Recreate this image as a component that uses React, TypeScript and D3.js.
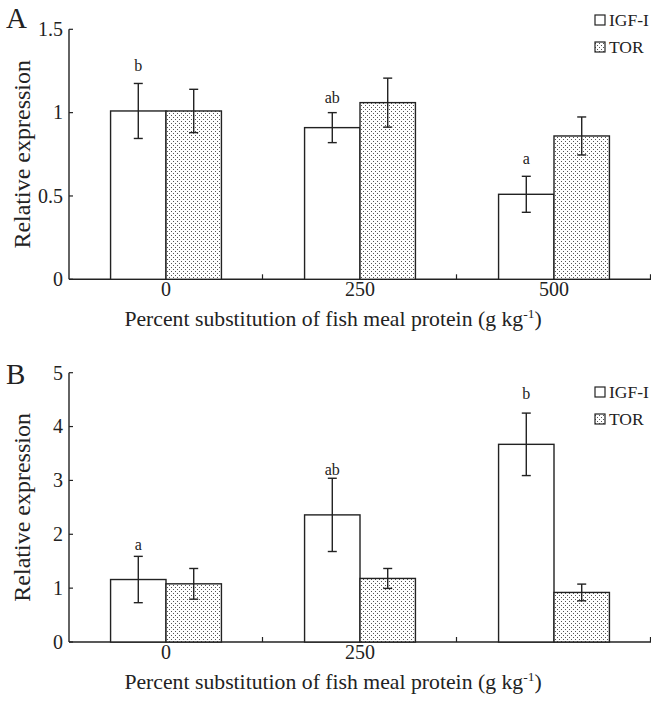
import { useEffect, useRef } from "react";
import * as d3 from "d3";

// groups on the x axis
const categories = ["0", "250", "500"];
const series = ["IGF-I", "TOR"];

// panel A
const tickLabelsA = ["0", "250", "500"];
const yTicksA = [0, 0.5, 1, 1.5];
const igfA = [1.01, 0.91, 0.51];
const igfErrA = [0.165, 0.09, 0.108];
const torA = [1.01, 1.06, 0.86];
const torErrA = [0.13, 0.147, 0.114];
const lettersA = ["b", "ab", "a"];
const letterAtA = [1.25, 1.06, 0.69];

// panel B
const tickLabelsB = ["0", "250", ""];
const yTicksB = [0, 1, 2, 3, 4, 5];
const igfB = [1.16, 2.36, 3.67];
const igfErrB = [0.43, 0.68, 0.58];
const torB = [1.08, 1.18, 0.92];
const torErrB = [0.285, 0.185, 0.155];
const lettersB = ["a", "ab", "b"];
const letterAtB = [1.71, 3.1, 4.51];

const width = 651;
const height = 701;
const font = "'Liberation Serif', 'Times New Roman', serif";
const ink = "#222";

type PanelOpts = {
  tag: string;
  top: number; // y of max tick
  bottom: number; // y of zero
  yMax: number;
  yTicks: number[];
  tickLabels: string[];
  igf: number[];
  igfErr: number[];
  tor: number[];
  torErr: number[];
  letters: string[];
  letterAt: number[];
  legendTop: number;
  tagBaseline: number;
};

const App = () => {
  const svgRef = useRef<SVGSVGElement | null>(null);

  useEffect(() => {
    if (!svgRef.current) return;
    const svg = d3.select(svgRef.current);
    svg.selectAll("*").remove();

    // dotted fill for TOR
    const defs = svg.append("defs");
    const pat = defs
      .append("pattern")
      .attr("id", "dots")
      .attr("patternUnits", "userSpaceOnUse")
      .attr("width", 4)
      .attr("height", 4);
    pat.append("rect").attr("width", 4).attr("height", 4).attr("fill", "#fff");
    pat.append("rect").attr("x", 1).attr("y", 1).attr("width", 1).attr("height", 1).attr("fill", "#555");
    pat.append("rect").attr("x", 3).attr("y", 3).attr("width", 1).attr("height", 1).attr("fill", "#555");

    const x0 = d3.scaleBand<string>().domain(categories).range([69, 651]).padding(0);
    const x1 = d3
      .scaleBand<string>()
      .domain(series)
      .range([0, x0.bandwidth()])
      .paddingInner(0)
      .paddingOuter(0.75);

    const drawPanel = (o: PanelOpts) => {
      const g = svg.append("g");
      const y = d3.scaleLinear().domain([0, o.yMax]).range([o.bottom, o.top]);

      // axes
      g.append("line")
        .attr("x1", 69).attr("x2", 69)
        .attr("y1", y(o.yMax)).attr("y2", y(0))
        .attr("stroke", ink).attr("stroke-width", 1.4);
      g.append("line")
        .attr("x1", 69).attr("x2", 651)
        .attr("y1", y(0)).attr("y2", y(0))
        .attr("stroke", ink).attr("stroke-width", 1.4);

      o.yTicks.forEach((t) => {
        g.append("line")
          .attr("x1", 69).attr("x2", 73)
          .attr("y1", y(t)).attr("y2", y(t))
          .attr("stroke", ink).attr("stroke-width", 1.2);
        g.append("text")
          .attr("x", 63).attr("y", y(t))
          .attr("dy", "0.34em")
          .attr("text-anchor", "end")
          .attr("font-family", font).attr("font-size", 20)
          .attr("fill", ink)
          .text(d3.format("")(t));
      });

      categories.forEach((c, i) => {
        const bx = x0(c)! + x0.bandwidth();
        g.append("line")
          .attr("x1", bx - 0.5).attr("x2", bx - 0.5)
          .attr("y1", y(0)).attr("y2", y(0) - 5)
          .attr("stroke", ink).attr("stroke-width", 1.2);
        g.append("text")
          .attr("x", x0(c)! + x0.bandwidth() / 2)
          .attr("y", y(0) + 17)
          .attr("text-anchor", "middle")
          .attr("font-family", font).attr("font-size", 20)
          .attr("fill", ink)
          .text(o.tickLabels[i]);
      });

      // bars
      const rows = categories.map((c, i) => ({
        c,
        vals: [
          { s: "IGF-I", v: o.igf[i], e: o.igfErr[i] },
          { s: "TOR", v: o.tor[i], e: o.torErr[i] },
        ],
        letter: o.letters[i],
        letterAt: o.letterAt[i],
      }));

      rows.forEach((r) => {
        r.vals.forEach((d) => {
          const bx = x0(r.c)! + x1(d.s)!;
          g.append("rect")
            .attr("x", bx).attr("y", y(d.v))
            .attr("width", x1.bandwidth())
            .attr("height", y(0) - y(d.v))
            .attr("fill", d.s === "TOR" ? "url(#dots)" : "#fff")
            .attr("stroke", ink).attr("stroke-width", 1.4);
          const cx = bx + x1.bandwidth() / 2;
          const eb = g.append("g").attr("stroke", ink).attr("stroke-width", 1.4);
          eb.append("line").attr("x1", cx).attr("x2", cx).attr("y1", y(d.v + d.e)).attr("y2", y(d.v - d.e));
          eb.append("line").attr("x1", cx - 4.5).attr("x2", cx + 4.5).attr("y1", y(d.v + d.e)).attr("y2", y(d.v + d.e));
          eb.append("line").attr("x1", cx - 4.5).attr("x2", cx + 4.5).attr("y1", y(d.v - d.e)).attr("y2", y(d.v - d.e));
        });
        g.append("text")
          .attr("x", x0(r.c)! + x1("IGF-I")! + x1.bandwidth() / 2)
          .attr("y", y(r.letterAt))
          .attr("text-anchor", "middle")
          .attr("font-family", font).attr("font-size", 16)
          .attr("fill", ink)
          .text(r.letter);
      });

      // legend
      series.forEach((s, i) => {
        const ly = o.legendTop + i * 27;
        g.append("rect")
          .attr("x", 595).attr("y", ly)
          .attr("width", 10).attr("height", 10)
          .attr("fill", s === "TOR" ? "url(#dots)" : "#fff")
          .attr("stroke", ink).attr("stroke-width", 1.2);
        g.append("text")
          .attr("x", 609).attr("y", ly + 10.5)
          .attr("font-family", font).attr("font-size", 17.5)
          .attr("fill", ink)
          .text(s);
      });

      // axis titles
      const yc = (y(0) + y(o.yMax)) / 2;
      g.append("text")
        .attr("transform", `translate(30,${yc}) rotate(-90)`)
        .attr("text-anchor", "middle")
        .attr("font-family", font).attr("font-size", 24)
        .attr("fill", ink)
        .text("Relative expression");

      const xt = g.append("text")
        .attr("transform", `translate(${(69 + 651) / 2 - 27},${y(0) + 47}) scale(1.035,1)`)
        .attr("text-anchor", "middle")
        .attr("font-family", font).attr("font-size", 21)
        .attr("fill", ink);
      xt.append("tspan").text("Percent substitution of fish meal protein (g kg");
      xt.append("tspan").attr("font-size", 13).attr("dy", -8).text("-1");
      xt.append("tspan").attr("dy", 8).text(")");

      g.append("text")
        .attr("x", 6).attr("y", o.tagBaseline)
        .attr("font-family", font).attr("font-size", 29)
        .attr("fill", ink)
        .text(o.tag);
    };

    drawPanel({
      tag: "A", top: 29.3, bottom: 279.3, yMax: 1.5, yTicks: yTicksA, tickLabels: tickLabelsA,
      igf: igfA, igfErr: igfErrA, tor: torA, torErr: torErrA,
      letters: lettersA, letterAt: letterAtA, legendTop: 15, tagBaseline: 28,
    });
    drawPanel({
      tag: "B", top: 372.7, bottom: 642, yMax: 5, yTicks: yTicksB, tickLabels: tickLabelsB,
      igf: igfB, igfErr: igfErrB, tor: torB, torErr: torErrB,
      letters: lettersB, letterAt: letterAtB, legendTop: 387, tagBaseline: 384,
    });
  }, []);

  return (
    <div style={{ position: "absolute", left: 0, top: 0, width, height, background: "#fff" }}>
      <svg ref={svgRef} width={width} height={height} viewBox={`0 0 ${width} ${height}`} />
    </div>
  );
};

export default App;
